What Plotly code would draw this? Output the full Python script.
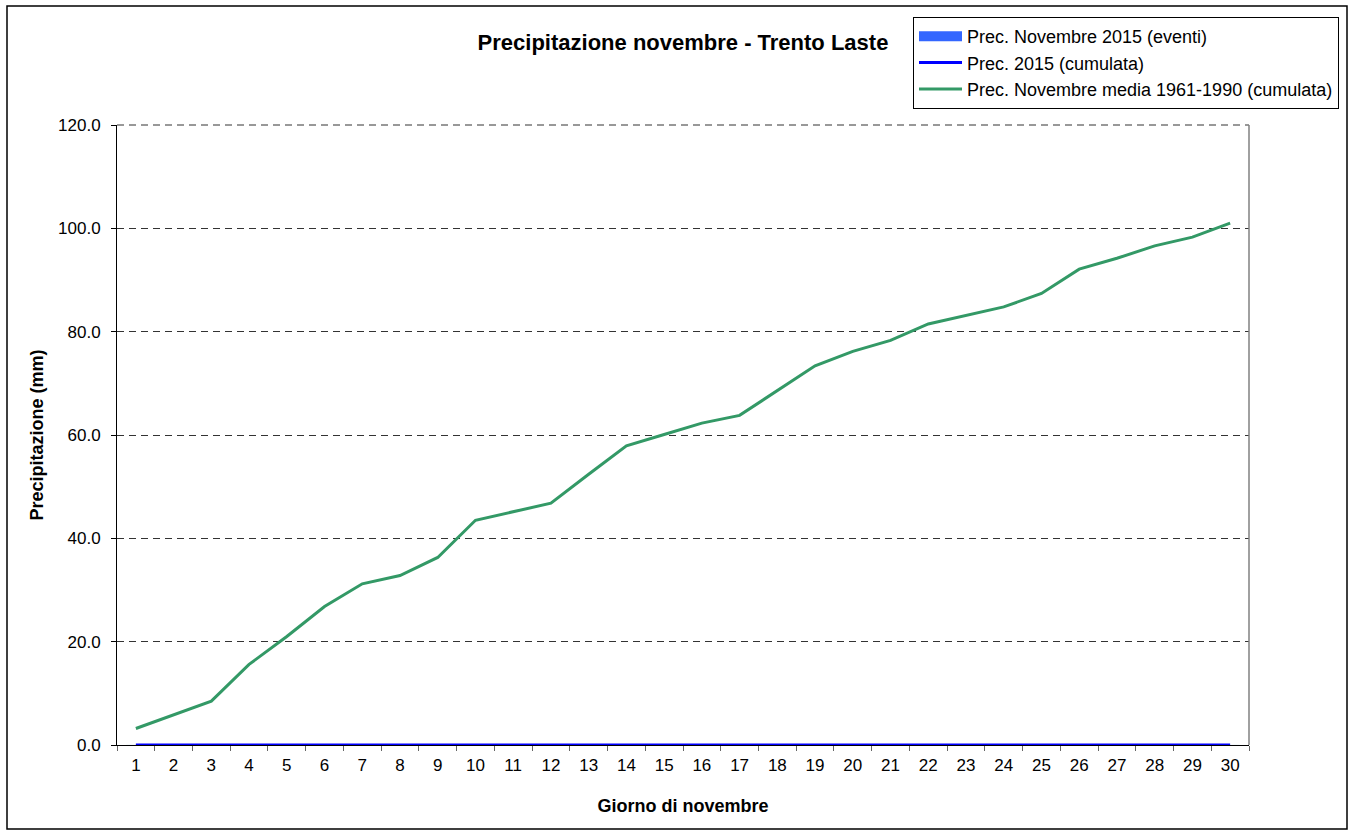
import plotly.graph_objects as go

# Data
giorni = ["1", "2", "3", "4", "5", "6", "7", "8", "9", "10",
          "11", "12", "13", "14", "15", "16", "17", "18", "19", "20",
          "21", "22", "23", "24", "25", "26", "27", "28", "29", "30"]

prec_eventi_2015 = [0.0, 0.0, 0.0, 0.0, 0.0, 0.0, 0.0, 0.0, 0.0, 0.0,
                    0.0, 0.0, 0.0, 0.0, 0.0, 0.0, 0.0, 0.0, 0.0, 0.0,
                    0.0, 0.0, 0.0, 0.0, 0.0, 0.0, 0.0, 0.0, 0.0, 0.0]

prec_cumulata_2015 = [0.0, 0.0, 0.0, 0.0, 0.0, 0.0, 0.0, 0.0, 0.0, 0.0,
                      0.0, 0.0, 0.0, 0.0, 0.0, 0.0, 0.0, 0.0, 0.0, 0.0,
                      0.0, 0.0, 0.0, 0.0, 0.0, 0.0, 0.0, 0.0, 0.0, 0.0]

prec_media_1961_1990 = [3.2, 5.9, 8.5, 15.6, 21.0, 26.8, 31.2, 32.8, 36.3, 43.5,
                        45.2, 46.8, 52.4, 57.9, 60.1, 62.3, 63.8, 68.6, 73.4, 76.2,
                        78.3, 81.5, 83.2, 84.8, 87.4, 92.1, 94.2, 96.6, 98.3, 101.0]

FONT = "Liberation Sans, Arial, sans-serif"
W, H = 1353, 832
L, R, T, B = 117, 104, 125, 87
PW, PH = W - L - R, H - T - B


def px_x(x):
    # pixel -> paper x
    return (x - L) / PW


def px_y(y):
    # pixel -> paper y
    return (H - B - y) / PH


fig = go.Figure()

# bars (eventi) - legend shown via proxy entry below
fig.add_trace(
    go.Bar(
        x=giorni,
        y=prec_eventi_2015,
        marker=dict(color="#3366FF"),
        name="Prec. Novembre 2015 (eventi)",
        legendgroup="eventi",
        showlegend=False,
    )
)
fig.add_trace(
    go.Scatter(
        x=[None],
        y=[None],
        mode="lines",
        line=dict(color="#3366FF", width=12),
        name="Prec. Novembre 2015 (eventi)",
        legendgroup="eventi",
    )
)

fig.add_trace(
    go.Scatter(
        x=giorni,
        y=prec_cumulata_2015,
        mode="lines",
        line=dict(color="#0000FF", width=3),
        name="Prec. 2015 (cumulata)",
        legendgroup="cumulata",
        cliponaxis=False,
    )
)

fig.add_trace(
    go.Scatter(
        x=giorni,
        y=prec_media_1961_1990,
        mode="lines",
        line=dict(color="#339966", width=3),
        name="Prec. Novembre media 1961-1990 (cumulata)",
        legendgroup="media",
        cliponaxis=False,
    )
)

fig.update_layout(
    width=W,
    height=H,
    margin=dict(l=L, r=R, t=T, b=B, pad=0),
    paper_bgcolor="white",
    plot_bgcolor="white",
    font=dict(family=FONT, size=17, color="black"),
    title=dict(
        text="<b>Precipitazione novembre - Trento Laste</b>",
        font=dict(family=FONT, size=22, color="black"),
        x=0.5,
        xref="paper",
        xanchor="center",
        y=1 - 42 / H,
        yref="container",
        yanchor="middle",
    ),
    legend=dict(
        x=px_x(913),
        y=px_y(17),
        xanchor="left",
        yanchor="top",
        bordercolor="black",
        borderwidth=1,
        bgcolor="white",
        font=dict(family=FONT, size=18, color="black"),
        itemwidth=43,
        tracegroupgap=0,
        traceorder="grouped",
    ),
    showlegend=True,
    bargap=0.5,
)

fig.update_xaxes(
    type="category",
    range=[-0.5, 29.5],
    tickson="boundaries",
    ticks="outside",
    ticklen=5,
    tickcolor="#666666",
    ticklabelstandoff=5,
    showline=True,
    linecolor="black",
    linewidth=1,
    showgrid=False,
    zeroline=False,
    tickfont=dict(family=FONT, size=17, color="black"),
    title=dict(
        text="<b>Giorno di novembre</b>",
        font=dict(family=FONT, size=18, color="black"),
        standoff=24,
    ),
)

fig.update_yaxes(
    range=[0, 120],
    dtick=20,
    tick0=0,
    tickformat=".1f",
    ticks="outside",
    ticklen=5,
    tickcolor="black",
    ticklabelstandoff=7,
    showline=True,
    linecolor="black",
    linewidth=1,
    showgrid=True,
    gridcolor="#333333",
    griddash="7px,5px",
    gridwidth=1,
    zeroline=False,
    tickfont=dict(family=FONT, size=17, color="black"),
    title=dict(
        text="<b>Precipitazione (mm)</b>",
        font=dict(family=FONT, size=18, color="black"),
        standoff=9,
    ),
)

# top gridline (120.0), right border of plot area and outer chart border
fig.add_shape(
    type="line", xref="paper", yref="paper",
    x0=0, x1=1, y0=1, y1=1,
    line=dict(color="#333333", width=1, dash="7px,5px"),
)
fig.add_shape(
    type="line", xref="paper", yref="paper",
    x0=1, x1=1, y0=0, y1=1,
    line=dict(color="#808080", width=1.5),
)
fig.add_shape(
    type="rect", xref="paper", yref="paper",
    x0=px_x(7), x1=px_x(1347), y0=px_y(829), y1=px_y(6),
    line=dict(color="black", width=1.5),
    layer="below",
)

fig.write_html(
    "out.html",
    config={"displayModeBar": False},
    post_script="document.body.style.margin='0';",
)
